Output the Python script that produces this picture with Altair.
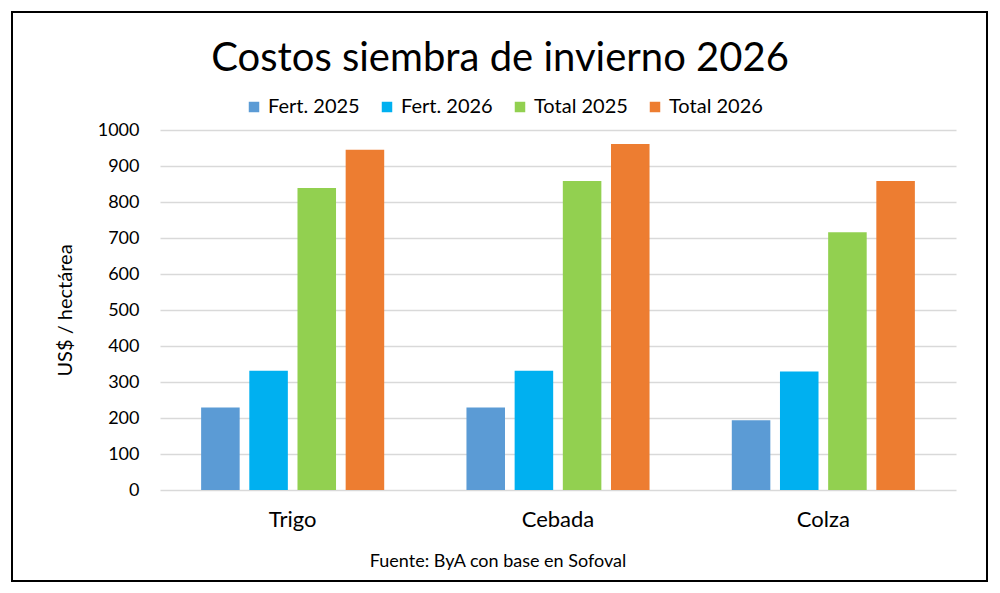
import altair as alt
import pandas as pd

cultivos = ["Trigo", "Cebada", "Colza"]
series = ["Fert. 2025", "Fert. 2026", "Total 2025", "Total 2026"]
fert_2025 = [229, 229, 194]
fert_2026 = [331, 331, 329]
total_2025 = [839, 858, 716]
total_2026 = [945, 961, 858]
colores = ["#5B9BD5", "#00B0F0", "#92D050", "#ED7D31"]
y_ticks = [0, 100, 200, 300, 400, 500, 600, 700, 800, 900, 1000]
titulo = "Costos siembra de invierno 2026"
fuente = "Fuente: ByA con base en Sofoval"
eje_y = "US$ / hectárea"

FONT = "Lato"

rows = []
for s, vals in zip(series, [fert_2025, fert_2026, total_2025, total_2026]):
    for c, v in zip(cultivos, vals):
        rows.append({"cultivo": c, "serie": s, "valor": v})
df = pd.DataFrame(rows)

bars = alt.Chart(df).mark_bar().encode(
    x=alt.X("cultivo:N", sort=cultivos,
            scale=alt.Scale(paddingInner=0.31, paddingOuter=0.155),
            axis=alt.Axis(title=None, labelAngle=0, labelFontSize=22, labelFont=FONT,
                          labelColor="#000000", labelPadding=19, domain=False,
                          ticks=False, grid=False)),
    xOffset=alt.XOffset("serie:N", sort=series,
                        scale=alt.Scale(paddingInner=0.2, paddingOuter=0)),
    y=alt.Y("valor:Q", scale=alt.Scale(domain=[0, 1000], nice=False),
            axis=alt.Axis(values=y_ticks, format="d", title=eje_y, titleFont=FONT,
                          titleFontSize=20, titleFontWeight="normal", titleColor="#000000",
                          titlePadding=22, labelFont=FONT, labelFontSize=18,
                          labelColor="#000000", labelPadding=21, domain=False, ticks=False,
                          gridColor="#D9D9D9", gridWidth=1.5)),
    color=alt.Color("serie:N", sort=series,
                    scale=alt.Scale(domain=series, range=colores),
                    legend=alt.Legend(title=None, orient="none", direction="horizontal",
                                      columns=4, legendX=84, legendY=-33,
                                      labelFont=FONT, labelFontSize=20, labelColor="#000000",
                                      symbolType="square", symbolSize=110, symbolStrokeWidth=0,
                                      columnPadding=17, labelOffset=4, padding=0)),
)

one = pd.DataFrame({"t": [titulo], "f": [fuente]})

title_mark = alt.Chart(one).mark_text(
    font=FONT, fontSize=40, color="#000000", align="center", baseline="alphabetic"
).encode(x=alt.value(340), y=alt.value(-59), text="t:N")

source_mark = alt.Chart(one).mark_text(
    font=FONT, fontSize=18, color="#000000", align="center", baseline="alphabetic"
).encode(x=alt.value(338), y=alt.value(437), text="f:N")

frame = alt.Chart(one).mark_rect(
    fillOpacity=0, stroke="#000000", strokeWidth=2
).encode(x=alt.value(-148), x2=alt.value(827), y=alt.value(-118), y2=alt.value(451))

chart = alt.layer(bars, title_mark, source_mark, frame).properties(
    width=796, height=360,
    autosize=alt.AutoSizeParams(type="none"),
    padding={"left": 152, "top": 122, "right": 36, "bottom": 100},
    background="#FFFFFF",
).configure_view(stroke=None)

chart.save("out.html", embed_options={"renderer": "svg", "actions": False})
